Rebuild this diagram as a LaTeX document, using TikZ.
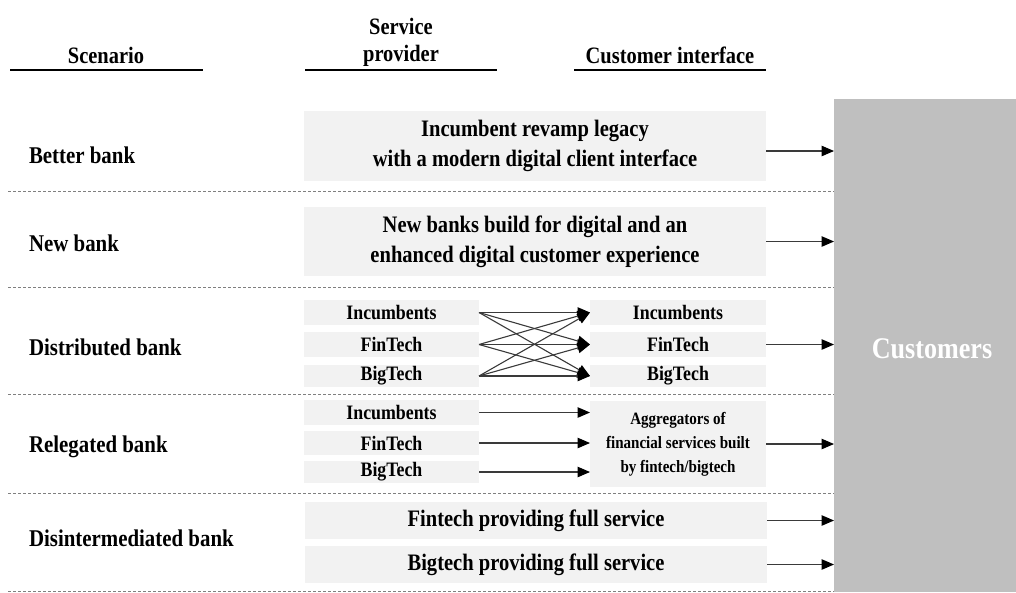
\documentclass[tikz,border=0pt]{standalone}
\usepackage{fontspec}
\setmainfont{Liberation Serif}[FakeStretch=0.87]
\usetikzlibrary{arrows.meta}
\definecolor{boxfill}{HTML}{F2F2F2}
\definecolor{custfill}{HTML}{BFBFBF}
\definecolor{sepline}{HTML}{7F7F7F}
\definecolor{linkline}{HTML}{3A3A3A}
\begin{document}
\begin{tikzpicture}[x=1pt,y=-1pt,
  every node/.style={inner sep=0pt, outer sep=0pt},
  head/.style={font=\fontsize{23.5}{27}\selectfont\bfseries, align=center},
  headrule/.style={line width=2pt, black},
  rowlabel/.style={anchor=west, font=\fontsize{24}{28}\selectfont\bfseries},
  widebox/.style={fill=boxfill, minimum width=462pt, align=center,
    font=\fontsize{23.6}{30}\selectfont\bfseries},
  smallbox/.style={fill=boxfill, minimum width=176pt, align=center,
    font=\fontsize{20.5}{24}\selectfont\bfseries},
  aggbox/.style={fill=boxfill, minimum width=176pt, minimum height=86pt, align=center,
    font=\fontsize{17.3}{24}\selectfont\bfseries},
  sep/.style={sepline, line width=0.9pt, dash pattern=on 3pt off 2pt},
  link/.style={linkline, line width=1.1pt,
    -{Triangle[length=12.5pt,width=10.5pt,color=black]}},
]
\useasboundingbox (0,0) rectangle (1016,592);

% column headings
\node[head] (hscen) at (106,55) {Scenario};
\node[head] (hprov) at (401,42) {Service\\provider};
\node[head] (hcust) at (670,55) {Customer interface};
\draw[headrule] (10,70) -- (203,70);
\draw[headrule] (305,70) -- (497,70);
\draw[headrule] (574,70) -- (766,70);

% customers block
\node[fill=custfill, minimum width=182pt, minimum height=493pt] (cust) at (925,345.5) {};
\node[text=white, font=\fontsize{30}{36}\selectfont\bfseries] (custlabel) at (932,349) {Customers};

% row separators
\foreach \yy in {191.5,287.5,394,493,591}
  \draw[sep] (8,\yy) -- (834,\yy);

% scenario labels
\node[rowlabel] (lbetter) at (29,155) {Better bank};
\node[rowlabel] (lnew) at (29,243) {New bank};
\node[rowlabel] (ldist) at (29,347) {Distributed bank};
\node[rowlabel] (lrel) at (29,447) {Relegated bank};
\node[rowlabel] (ldis) at (29,538) {Disintermediated bank};

% better bank
\node[widebox, minimum height=70pt] (better) at (535,146)
  {Incumbent revamp legacy\\with a modern digital client interface};
% new bank
\node[widebox, minimum height=69pt] (new) at (535,241.5)
  {New banks build for digital and an\\enhanced digital customer experience};

% distributed bank
\node[smallbox, minimum width=175pt, minimum height=25pt] (dpi) at (391.5,312.5) {Incumbents};
\node[smallbox, minimum width=175pt, minimum height=25pt] (dpf) at (391.5,344.5) {FinTech};
\node[smallbox, minimum width=175pt, minimum height=22pt] (dpb) at (391.5,376) {BigTech};
\node[smallbox, minimum height=25pt] (dci) at (678,312.5) {Incumbents};
\node[smallbox, minimum height=25pt] (dcf) at (678,344.5) {FinTech};
\node[smallbox, minimum height=22pt] (dcb) at (678,376) {BigTech};
\foreach \s in {dpi,dpf,dpb}
  \foreach \t in {dci,dcf,dcb}
    \draw[link] (\s.east) -- (\t.west);

% relegated bank
\node[smallbox, minimum width=175pt, minimum height=25pt] (rpi) at (391.5,412.5) {Incumbents};
\node[smallbox, minimum width=175pt, minimum height=24pt] (rpf) at (391.5,443) {FinTech};
\node[smallbox, minimum width=175pt, minimum height=22pt] (rpb) at (391.5,472) {BigTech};
\node[aggbox] (agg) at (678,444)
  {Aggregators of\\financial services built\\by fintech/bigtech};
\foreach \s in {rpi,rpf,rpb}
  \draw[link] (\s.east) -- (\s.east -| agg.west);

% disintermediated bank
\node[widebox, minimum height=37pt] (fin) at (536,520.5) {Fintech providing full service};
\node[widebox, minimum height=37pt] (big) at (536,564.5) {Bigtech providing full service};

% links to customers
\draw[link] ([yshift=-5pt]better.east) -- ([yshift=-5pt]better.east -| cust.west);
\draw[link] (new.east) -- (new.east -| cust.west);
\draw[link] (dcf.east) -- (dcf.east -| cust.west);
\draw[link] (agg.east) -- (agg.east -| cust.west);
\draw[link] (fin.east) -- (fin.east -| cust.west);
\draw[link] (big.east) -- (big.east -| cust.west);
\end{tikzpicture}
\end{document}
